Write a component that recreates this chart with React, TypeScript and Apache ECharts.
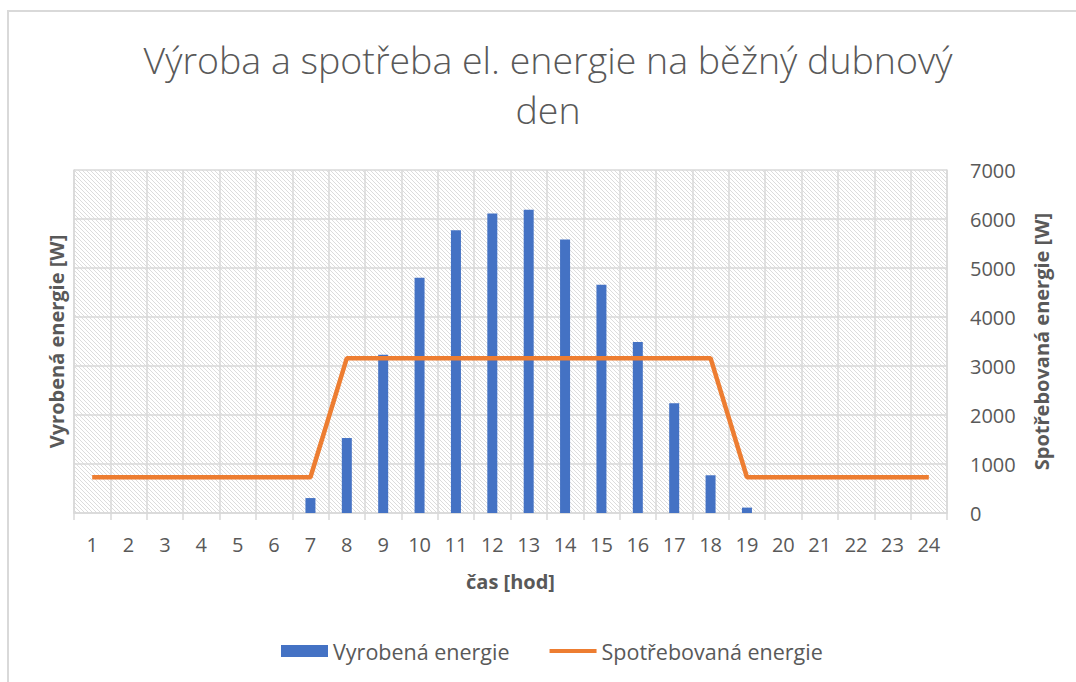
import React, { useEffect, useRef } from "react";
import * as echarts from "echarts";

const TITLE = "Výroba a spotřeba el. energie na běžný dubnový\nden";
const X_NAME = "čas [hod]";
const LEFT_NAME = "Vyrobená energie [W]";
const RIGHT_NAME = "Spotřebovaná energie [W]";
const SERIES_PRODUCED = "Vyrobená energie";
const SERIES_CONSUMED = "Spotřebovaná energie";

const hours = ["1", "2", "3", "4", "5", "6", "7", "8", "9", "10", "11", "12", "13", "14", "15", "16", "17", "18", "19", "20", "21", "22", "23", "24"];
const produced = [0, 0, 0, 0, 0, 0, 305, 1530, 3230, 4800, 5770, 6110, 6190, 5580, 4660, 3490, 2240, 770, 110, 0, 0, 0, 0, 0];
const consumed = [730, 730, 730, 730, 730, 730, 730, 3160, 3160, 3160, 3160, 3160, 3160, 3160, 3160, 3160, 3160, 3160, 730, 730, 730, 730, 730, 730];
const yMin = 0;
const yMax = 7000;
const yInterval = 1000;

const FONT = "'Open Sans', 'Noto Sans', sans-serif";
const TEXT = "#595959";
const GRIDC = "#d9d9d9";

const hatch =
  "data:image/svg+xml;utf8," +
  encodeURIComponent(
    '<svg xmlns="http://www.w3.org/2000/svg" width="4" height="4"><path d="M-1,-1 L5,5 M-1,3 L1,5 M3,-1 L5,1" stroke="#d6d6d6" stroke-width="0.85"/></svg>'
  );

export default function App() {
  const ref = useRef<HTMLDivElement>(null);
  useEffect(() => {
    if (!ref.current) return;
    const chart = echarts.init(ref.current, null, { renderer: "svg" });
    chart.setOption({
      animation: false,
      backgroundColor: "#ffffff",
      textStyle: { fontFamily: FONT },
      graphic: [
        {
          type: "rect",
          shape: { x: 8, y: 11, width: 1100, height: 700 },
          style: { fill: "none", stroke: GRIDC, lineWidth: 2 },
          silent: true,
        },
        {
          type: "text",
          x: 548,
          y: 34,
          style: {
            text: TITLE,
            fill: TEXT,
            font: `300 37.5px ${FONT}`,
            textAlign: "center",
            textVerticalAlign: "top",
            lineHeight: 50,
          },
        },
      ],
      legend: {
        left: 276,
        top: 635,
        itemWidth: 47,
        itemHeight: 12,
        itemGap: 40,
        textStyle: { color: TEXT, fontSize: 21.5, fontFamily: FONT },
        data: [
          { name: SERIES_PRODUCED, icon: "rect" },
          { name: SERIES_CONSUMED, icon: "path://M0,0 L50,0 L50,4.5 L0,4.5 Z" },
        ],
      },
      grid: {
        left: 74,
        right: 129,
        top: 170,
        bottom: 169,
        show: true,
        borderWidth: 0,
        backgroundColor: { image: hatch, repeat: "repeat", imageWidth: 4, imageHeight: 4 },
      },
      xAxis: {
        type: "category",
        data: hours,
        boundaryGap: true,
        axisLine: { show: true, lineStyle: { color: GRIDC, width: 1.5 } },
        axisTick: { show: true, length: 7, lineStyle: { color: GRIDC, width: 1.5 } },
        axisLabel: { color: TEXT, fontSize: 20, margin: 21, fontFamily: FONT },
        splitLine: { show: true, lineStyle: { color: GRIDC, width: 1.5 } },
        name: X_NAME,
        nameLocation: "middle",
        nameGap: 58,
        nameTextStyle: { color: TEXT, fontSize: 20, fontWeight: "bold", fontFamily: FONT },
      },
      yAxis: [
        {
          type: "value",
          min: yMin,
          max: yMax,
          interval: yInterval,
          position: "left",
          axisLabel: { show: false },
          axisTick: { show: false },
          axisLine: { show: true, lineStyle: { color: GRIDC, width: 1.5 } },
          splitLine: { show: true, lineStyle: { color: GRIDC, width: 1.5 } },
          name: LEFT_NAME,
          nameLocation: "middle",
          nameGap: 8,
          nameRotate: 90,
          nameTextStyle: { color: TEXT, fontSize: 20, fontWeight: "bold", fontFamily: FONT },
        },
        {
          type: "value",
          min: yMin,
          max: yMax,
          interval: yInterval,
          position: "right",
          axisLabel: {
            color: TEXT,
            fontSize: 20,
            margin: 23,
            fontFamily: FONT,
            formatter: (v: number) => String(v),
          },
          axisTick: { show: false },
          axisLine: { show: true, lineStyle: { color: GRIDC, width: 1.5 } },
          splitLine: { show: false },
          name: RIGHT_NAME,
          nameLocation: "middle",
          nameGap: 84,
          nameRotate: 90,
          nameTextStyle: { color: TEXT, fontSize: 20, fontWeight: "bold", fontFamily: FONT },
        },
      ],
      series: [
        {
          name: SERIES_PRODUCED,
          type: "bar",
          yAxisIndex: 0,
          data: produced,
          barWidth: 10,
          itemStyle: { color: "#4472C4" },
        },
        {
          name: SERIES_CONSUMED,
          type: "line",
          yAxisIndex: 1,
          data: consumed,
          symbol: "none",
          lineStyle: { color: "#ED7D31", width: 4.5 },
          itemStyle: { color: "#ED7D31" },
        },
      ],
    });
    return () => chart.dispose();
  }, []);
  return (
    <div
      ref={ref}
      style={{ position: "fixed", left: 0, top: 0, width: 1076, height: 682 }}
    />
  );
}
